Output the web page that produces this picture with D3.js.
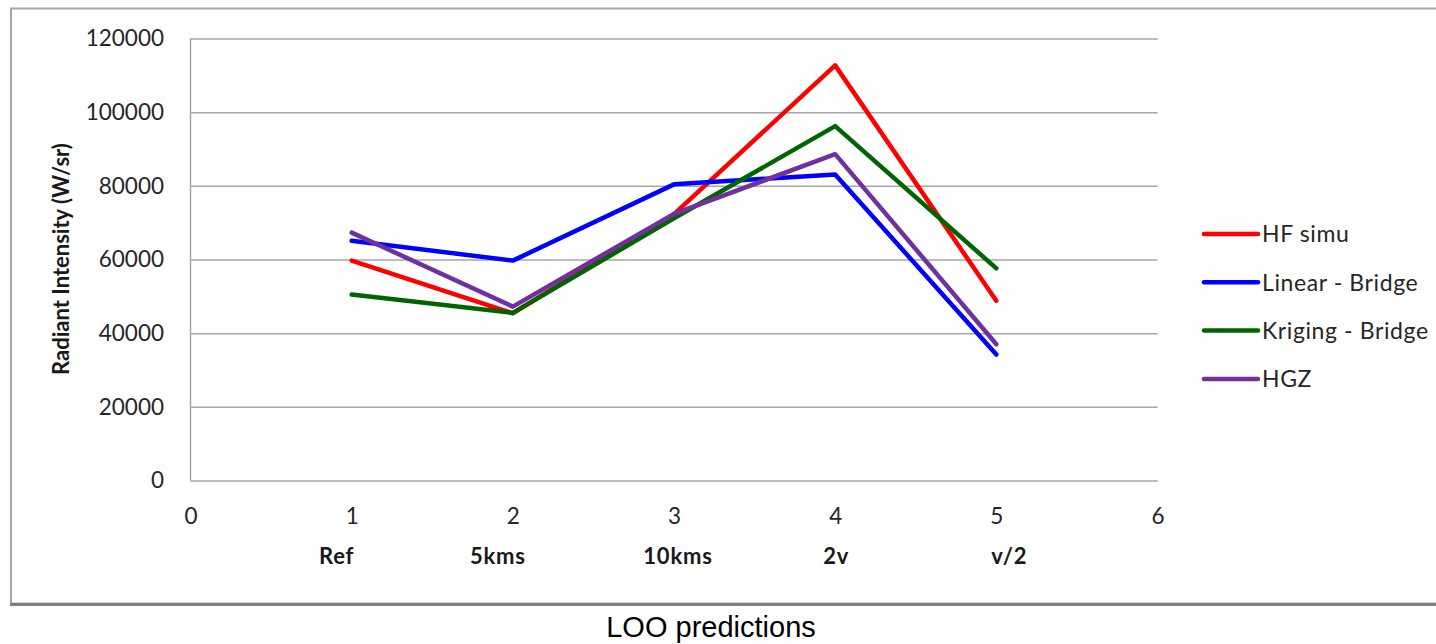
<!DOCTYPE html>
<html>
<head>
<meta charset="utf-8">
<script src="https://cdn.jsdelivr.net/npm/d3@7"></script>
<style>
  body { margin: 0; background: #fff; }
  svg { display: block; }
</style>
</head>
<body>
<svg id="chart" width="1436" height="644"></svg>
<script>
// Run index (x position) and the case name shown under each run
const positions = [1, 2, 3, 4, 5];
const categories = ["Ref", "5kms", "10kms", "2v", "v/2"];

// Radiant intensity (W/sr) per run
const seriesNames = ["HF simu", "Linear - Bridge", "Kriging - Bridge", "HGZ"];
const hfSimu        = [59700, 45400, 72300, 112700, 48800];
const linearBridge  = [65100, 59700, 80400, 83100, 34200];
const krigingBridge = [50500, 45500, 71200, 96200, 57600];
const hgz           = [67300, 47200, 72400, 88600, 37000];

const xTicks = [0, 1, 2, 3, 4, 5, 6];
const yTicks = [0, 20000, 40000, 60000, 80000, 100000, 120000];
const seriesColors = ["#ff0000", "#0000ff", "#006400", "#7030a0"];

const series = [hfSimu, linearBridge, krigingBridge, hgz].map((vals, i) => ({
  name: seriesNames[i],
  color: seriesColors[i],
  points: vals.map((v, j) => ({ x: positions[j], y: v }))
}));

const FONT = "Lato, 'Open Sans', sans-serif";
const svg = d3.select("#chart");
const W = 1436;
const plot = { left: 190.5, right: 1157.5, top: 38.5, bottom: 480.5 };

const x = d3.scaleLinear().domain([0, 6]).range([plot.left, plot.right]);
const y = d3.scaleLinear().domain([0, 120000]).range([plot.bottom, plot.top]);

// Outer chart frame with a darker lower edge
svg.append("rect")
  .attr("x", 11).attr("y", 8.5)
  .attr("width", W + 10).attr("height", 595)
  .attr("fill", "none").attr("stroke", "#a6a6a6").attr("stroke-width", 2);
svg.append("line")
  .attr("x1", 10).attr("x2", W).attr("y1", 604.5).attr("y2", 604.5)
  .attr("stroke", "#808080").attr("stroke-width", 3);

// Horizontal gridlines and value labels
const yAxis = svg.append("g")
  .attr("transform", `translate(${plot.left},0)`)
  .call(d3.axisLeft(y).tickValues(yTicks).tickFormat(d3.format("d"))
    .tickSize(-(plot.right - plot.left)).tickPadding(26.5));
yAxis.select(".domain").remove();
yAxis.selectAll(".tick line").attr("stroke", "#a6a6a6").attr("stroke-width", 1.5);
yAxis.selectAll(".tick text")
  .style("font-family", FONT).style("font-size", "22.5px").style("fill", "#262626");

// Vertical axis line
svg.append("line")
  .attr("x1", plot.left).attr("x2", plot.left)
  .attr("y1", plot.top).attr("y2", plot.bottom)
  .attr("stroke", "#a6a6a6").attr("stroke-width", 1.5);

// Numeric x axis labels
const xAxis = svg.append("g")
  .attr("transform", `translate(0,${plot.bottom})`)
  .call(d3.axisBottom(x).tickValues(xTicks).tickFormat(d3.format("d"))
    .tickSize(0).tickPadding(28));
xAxis.select(".domain").remove();
xAxis.selectAll(".tick text")
  .style("font-family", FONT).style("font-size", "22.5px").style("fill", "#262626");

// Case names under the numeric ticks
const nameShift = [-15, -15, 4, 1, 13];
svg.append("g").selectAll("text")
  .data(categories)
  .join("text")
  .attr("x", (d, i) => x(positions[i]) + nameShift[i])
  .attr("y", 564)
  .attr("text-anchor", "middle")
  .style("font-family", FONT).style("font-size", "22px").style("font-weight", "bold")
  .style("letter-spacing", "0.8px").style("fill", "#1a1a1a")
  .text(d => d);

// Y axis title
svg.append("text")
  .attr("transform", "translate(69,259) rotate(-90)")
  .attr("text-anchor", "middle")
  .style("font-family", FONT).style("font-size", "22px").style("font-weight", "bold")
  .style("fill", "#1a1a1a")
  .text("Radiant Intensity (W/sr)");

// Series lines
const line = d3.line().x(d => x(d.x)).y(d => y(d.y));
svg.append("g").selectAll("path")
  .data(series)
  .join("path")
  .attr("d", d => line(d.points))
  .attr("fill", "none")
  .attr("stroke", d => d.color)
  .attr("stroke-width", 4.5)
  .attr("stroke-linejoin", "round")
  .attr("stroke-linecap", "round");

// Legend
const legend = svg.append("g").selectAll("g")
  .data(series)
  .join("g")
  .attr("transform", (d, i) => `translate(1204,${234 + i * 48.3})`);
legend.append("line")
  .attr("x1", 0).attr("x2", 54)
  .attr("stroke", d => d.color).attr("stroke-width", 4.5)
  .attr("stroke-linecap", "round");
legend.append("text")
  .attr("x", 58).attr("dy", "0.36em")
  .style("font-family", FONT).style("font-size", "23px")
  .style("letter-spacing", "0.6px").style("fill", "#262626")
  .text(d => d.name);

// Caption below the chart frame
svg.append("text")
  .attr("x", 711).attr("y", 637)
  .attr("text-anchor", "middle")
  .style("font-family", "'Liberation Sans', Arial, sans-serif")
  .style("font-size", "29px").style("fill", "#000")
  .text("LOO predictions");
</script>
</body>
</html>
